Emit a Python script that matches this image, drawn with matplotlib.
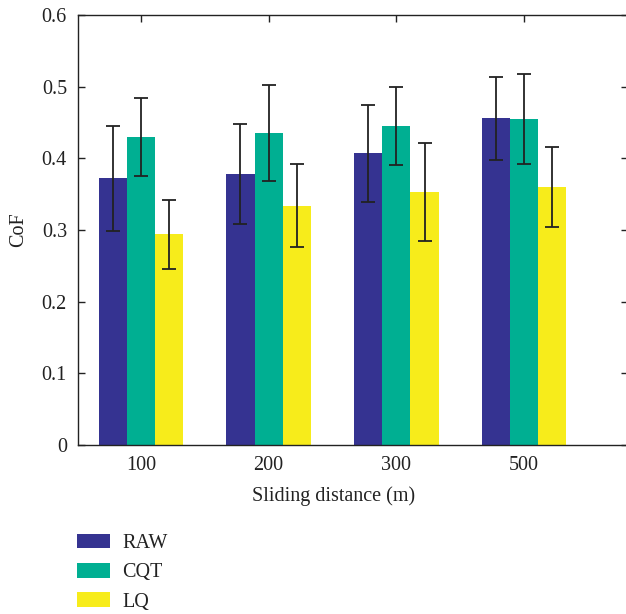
import matplotlib
matplotlib.use("Agg")
import matplotlib.pyplot as plt
import numpy as np
from matplotlib.patches import Patch

categories = ["100", "200", "300", "500"]
series_names = ["RAW", "CQT", "LQ"]
raw_vals = [0.372, 0.378, 0.407, 0.456]
raw_err = [0.073, 0.070, 0.068, 0.058]
cqt_vals = [0.430, 0.435, 0.445, 0.455]
cqt_err = [0.054, 0.067, 0.054, 0.063]
lq_vals = [0.294, 0.334, 0.353, 0.360]
lq_err = [0.048, 0.058, 0.069, 0.056]
colors = ["#353391", "#00AF92", "#F7EC1B"]
yticks = [0, 0.1, 0.2, 0.3, 0.4, 0.5, 0.6]
ytick_labels = ["0", "0.1", "0.2", "0.3", "0.4", "0.5", "0.6"]

plt.rcParams["font.family"] = ["Liberation Serif", "DejaVu Serif"]
FS = 14.5
plt.rcParams["font.size"] = FS

W, H = 626, 614
fig = plt.figure(figsize=(W / 100, H / 100), dpi=100)
ax = fig.add_axes([78 / W, (H - 445) / H, 550 / W, 430 / H])

x = np.arange(1, len(categories) + 1)
bw = 0.221
series = [(raw_vals, raw_err), (cqt_vals, cqt_err), (lq_vals, lq_err)]
handles = []
for i, ((vals, err), c, name) in enumerate(zip(series, colors, series_names)):
    ax.bar(x + (i - 1) * bw, vals, width=bw, color=c, edgecolor="none", zorder=2)
    ax.errorbar(x + (i - 1) * bw, vals, yerr=err, fmt="none", ecolor="#222222",
                elinewidth=1.3, capsize=4.8, capthick=1.3, zorder=3)
    handles.append(Patch(facecolor=c, edgecolor="none", label=name))

ax.set_xlim(0.507, 4.814)
ax.set_ylim(0, 0.6)
ax.set_xticks(x)
ax.set_xticklabels(categories)
ax.set_yticks(yticks)
ax.set_yticklabels(ytick_labels)
ax.tick_params(direction="in", length=5, width=1, top=True, right=True,
               labelsize=FS, color="#222222", labelcolor="#222222")
ax.tick_params(axis="x", pad=8)
ax.tick_params(axis="y", pad=8)
for s in ax.spines.values():
    s.set_linewidth(1.0)
    s.set_color("#222222")

ax.set_xlabel("Sliding distance (m)", fontsize=FS, color="#222222")
ax.xaxis.set_label_coords((333.5 - 78) / 550, -0.095)
ax.set_ylabel("CoF", fontsize=FS, color="#222222")
ax.yaxis.set_label_coords(-0.09, 0.5)

fig.legend(handles=handles, loc="upper left", bbox_to_anchor=(77 / W, 1 - 533.5 / H),
           frameon=False, fontsize=FS, handlelength=1.64, handleheight=0.75,
           handletextpad=0.6, labelspacing=0.5, borderpad=0, borderaxespad=0,
           labelcolor="#222222")

fig.savefig("out.png", dpi=100)
